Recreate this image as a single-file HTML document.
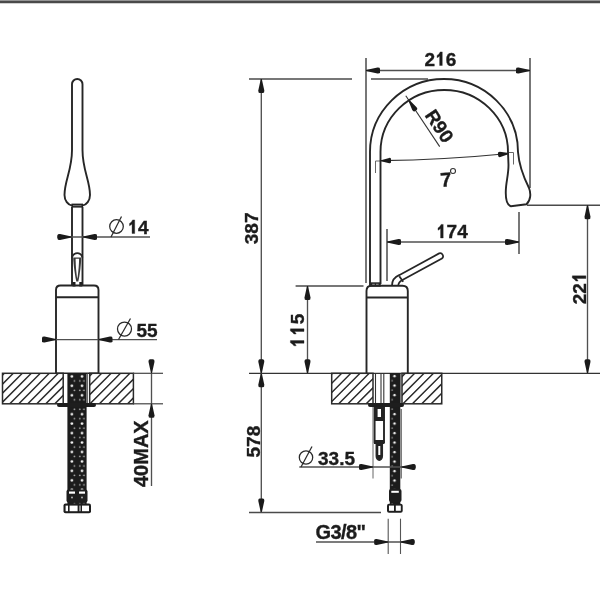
<!DOCTYPE html>
<html><head><meta charset="utf-8"><style>
html,body{margin:0;padding:0;background:#fff;width:600px;height:600px;overflow:hidden}
svg{display:block;font-family:"Liberation Sans",sans-serif;will-change:transform}
</style></head><body>
<svg width="600" height="600" viewBox="0 0 600 600">
<rect width="600" height="600" fill="#fff"/>
<rect x="0" y="0" width="600" height="1" fill="#959595"/><rect x="0" y="1" width="600" height="2" fill="#4a4a4a"/><rect x="0" y="3" width="600" height="1" fill="#d0d0d0"/>
<path d="M72,205.5 C68,205 64.5,200.5 64.5,195 C64.5,181 72,170 72,150 L72,84.25 A5.25,5.25 0 0 1 82.5,84.25 L82.5,150 C82.5,170 90,181 90,195 C90,200.5 86.5,205 82.5,205.5" fill="none" stroke="#262626" stroke-width="1.9"/>
<rect x="71.5" y="203.6" width="11.5" height="4" fill="#222"/><rect x="73" y="205.1" width="8.5" height="1" fill="#777"/>
<line x1="72" y1="207" x2="72" y2="285.5" stroke="#262626" stroke-width="1.9"/>
<line x1="82.5" y1="207" x2="82.5" y2="285.5" stroke="#262626" stroke-width="1.9"/>
<path d="M72,257.5 C73,254.6 75,253.2 77.3,253.2 C79.6,253.2 81.6,254.6 82.5,257.5" fill="none" stroke="#262626" stroke-width="1.8"/>
<path d="M73.2,257.5 L81.3,257.5 C81,266 79.5,276 78.3,281.5 L76.3,281.5 C75.1,276 73.5,266 73.2,257.5Z" fill="#3a3a3a"/>
<path d="M75.6,258.8 L79.1,258.8 C78.9,266 78.2,274 77.3,279 C76.4,274 75.7,266 75.6,258.8Z" fill="#fff"/>
<rect x="72.5" y="282" width="3" height="4.5" fill="#1e1e1e"/><rect x="79.3" y="282" width="3" height="4.5" fill="#1e1e1e"/>
<path d="M56,373.3 L56,290 Q56,285.5 60.5,285.5 L94,285.5 Q98.5,285.5 98.5,290 L98.5,373.3" fill="none" stroke="#262626" stroke-width="1.9"/>
<line x1="56" y1="297.2" x2="98.5" y2="297.2" stroke="#262626" stroke-width="1.9"/>
<line x1="56" y1="373.3" x2="98.5" y2="373.3" stroke="#262626" stroke-width="1.6"/>
<line x1="57" y1="237" x2="150" y2="237" stroke="#505050" stroke-width="1.35"/>
<path d="M71.50,237.50 L60.02,240.00 Q57.50,240.15 57.50,238.65 L57.50,235.35 Q57.50,233.85 60.02,234.00 L71.50,236.50Z" fill="#1a1a1a"/>
<path d="M83.00,236.50 L94.48,234.00 Q97.00,233.85 97.00,235.35 L97.00,238.65 Q97.00,240.15 94.48,240.00 L83.00,237.50Z" fill="#1a1a1a"/>
<circle cx="116.5" cy="226.5" r="6.8" fill="none" stroke="#2a2a2a" stroke-width="1.25"/>
<line x1="121.5" y1="216.5" x2="111" y2="237" stroke="#2a2a2a" stroke-width="1.25"/>
<g transform="translate(127.5 233.5)"><path d="M7.20,0.00L7.20,-13.60L5.09,-13.60C4.66,-12.45 3.80,-11.40 3.04,-10.83C2.66,-10.55 2.28,-10.26 2.01,-10.11L2.01,-7.79C2.94,-8.17 3.80,-8.74 4.56,-9.50L4.56,0.00Z" fill="#1c1c1c" stroke="#1c1c1c" stroke-width="0.35"/><text x="10.57" y="0" font-size="19" font-weight="bold" fill="#1c1c1c" stroke="#1c1c1c" stroke-width="0.35">4</text></g>
<line x1="42" y1="339.6" x2="157" y2="339.6" stroke="#505050" stroke-width="1.35"/>
<path d="M56.00,340.10 L44.52,342.60 Q42.00,342.75 42.00,341.25 L42.00,337.95 Q42.00,336.45 44.52,336.60 L56.00,339.10Z" fill="#1a1a1a"/>
<path d="M98.50,339.10 L109.98,336.60 Q112.50,336.45 112.50,337.95 L112.50,341.25 Q112.50,342.75 109.98,342.60 L98.50,340.10Z" fill="#1a1a1a"/>
<circle cx="124.5" cy="329" r="7" fill="none" stroke="#2a2a2a" stroke-width="1.25"/>
<line x1="130.5" y1="318.5" x2="118.5" y2="339.5" stroke="#2a2a2a" stroke-width="1.25"/>
<text x="136.5" y="336.5" font-size="19" font-weight="bold" text-anchor="start" fill="#1c1c1c" stroke="#1c1c1c" stroke-width="0.35">55</text>
<clipPath id="c1"><rect x="2.5" y="373.3" width="60.7" height="30.5"/></clipPath>
<path d="M-35.20,403.8 L-4.70,373.3 M-26.20,403.8 L4.30,373.3 M-17.20,403.8 L13.30,373.3 M-8.20,403.8 L22.30,373.3 M0.80,403.8 L31.30,373.3 M9.80,403.8 L40.30,373.3 M18.80,403.8 L49.30,373.3 M27.80,403.8 L58.30,373.3 M36.80,403.8 L67.30,373.3 M45.80,403.8 L76.30,373.3 M54.80,403.8 L85.30,373.3 M63.80,403.8 L94.30,373.3" stroke="#2a2a2a" stroke-width="1.45" clip-path="url(#c1)"/>
<rect x="2.5" y="373.3" width="60.7" height="30.5" fill="none" stroke="#2a2a2a" stroke-width="1.5"/>
<clipPath id="c2"><rect x="89.7" y="373.3" width="43.7" height="30.5"/></clipPath>
<path d="M52.40,403.8 L82.90,373.3 M61.80,403.8 L92.30,373.3 M71.20,403.8 L101.70,373.3 M80.60,403.8 L111.10,373.3 M90.00,403.8 L120.50,373.3 M99.40,403.8 L129.90,373.3 M108.80,403.8 L139.30,373.3 M118.20,403.8 L148.70,373.3 M127.60,403.8 L158.10,373.3 M137.00,403.8 L167.50,373.3" stroke="#2a2a2a" stroke-width="1.45" clip-path="url(#c2)"/>
<rect x="89.7" y="373.3" width="43.7" height="30.5" fill="none" stroke="#2a2a2a" stroke-width="1.5"/>
<line x1="133" y1="373.3" x2="163" y2="373.3" stroke="#444" stroke-width="1.2"/>
<line x1="133" y1="403.8" x2="163" y2="403.8" stroke="#444" stroke-width="1.2"/>
<line x1="151.5" y1="373.3" x2="151.5" y2="486" stroke="#505050" stroke-width="1.35"/>
<path d="M151.00,373.30 L148.50,361.82 Q148.35,359.30 149.85,359.30 L153.15,359.30 Q154.65,359.30 154.50,361.82 L152.00,373.30Z" fill="#1a1a1a"/>
<path d="M152.00,403.80 L154.50,415.28 Q154.65,417.80 153.15,417.80 L149.85,417.80 Q148.35,417.80 148.50,415.28 L151.00,403.80Z" fill="#1a1a1a"/>
<text x="147.8" y="487" font-size="20" font-weight="bold" text-anchor="start" fill="#1c1c1c" stroke="#1c1c1c" stroke-width="0.35" transform="rotate(-90 147.8 487)">40MAX</text>
<pattern id="dots" x="67.4" y="373" width="19.2" height="9.45" patternUnits="userSpaceOnUse"><rect width="19.2" height="9.45" fill="#1c1c1c"/><circle cx="4.5" cy="3.4" r="1.3" fill="#fff"/><circle cx="14.6" cy="3.4" r="1.3" fill="#fff"/><circle cx="7.1" cy="7.9" r="0.9" fill="#aaa"/><circle cx="12.35" cy="7.9" r="0.9" fill="#aaa"/><circle cx="16.5" cy="7.9" r="0.9" fill="#aaa"/></pattern>
<pattern id="dots2" x="389.8" y="373" width="10.5" height="9.5" patternUnits="userSpaceOnUse"><rect width="10.5" height="9.5" fill="#1c1c1c"/><circle cx="4.7" cy="3.0" r="1.2" fill="#fff"/><circle cx="2.3" cy="7.7" r="0.8" fill="#999"/></pattern>
<rect x="67.4" y="373" width="19.2" height="131" fill="url(#dots)"/>
<line x1="87.5" y1="373.3" x2="87.5" y2="403" stroke="#444" stroke-width="0.8"/>
<rect x="57" y="403" width="39" height="4" rx="2" fill="#1e1e1e"/>
<rect x="66.5" y="489.5" width="21" height="13" rx="2" fill="#1e1e1e"/>
<rect x="69" y="491.5" width="6" height="2.2" fill="#fff"/><rect x="79" y="491.5" width="6" height="2.2" fill="#fff"/><circle cx="72" cy="497.5" r="0.9" fill="#bbb"/><circle cx="82" cy="497.5" r="0.9" fill="#bbb"/>
<rect x="63.5" y="503.5" width="27.5" height="9.8" rx="2" fill="#1e1e1e"/>
<rect x="65.6" y="505.6" width="2.4" height="5.6" fill="#fff"/><rect x="69.6" y="505.6" width="8" height="5.6" fill="#fff"/><rect x="79.5" y="505.6" width="1" height="5.6" fill="#fff"/><rect x="82" y="505.6" width="7" height="5.6" fill="#fff"/>
<line x1="249" y1="79" x2="352" y2="79" stroke="#4a4a4a" stroke-width="1.5"/>
<line x1="371" y1="79" x2="428" y2="79" stroke="#4a4a4a" stroke-width="1.5"/>
<line x1="261.3" y1="79" x2="261.3" y2="512.5" stroke="#505050" stroke-width="1.35"/>
<path d="M261.80,79.00 L264.30,90.48 Q264.45,93.00 262.95,93.00 L259.65,93.00 Q258.15,93.00 258.30,90.48 L260.80,79.00Z" fill="#1a1a1a"/>
<path d="M260.80,373.30 L258.30,361.82 Q258.15,359.30 259.65,359.30 L262.95,359.30 Q264.45,359.30 264.30,361.82 L261.80,373.30Z" fill="#1a1a1a"/>
<path d="M261.80,373.30 L264.30,384.78 Q264.45,387.30 262.95,387.30 L259.65,387.30 Q258.15,387.30 258.30,384.78 L260.80,373.30Z" fill="#1a1a1a"/>
<path d="M260.80,512.50 L258.30,501.02 Q258.15,498.50 259.65,498.50 L262.95,498.50 Q264.45,498.50 264.30,501.02 L261.80,512.50Z" fill="#1a1a1a"/>
<text x="258.3" y="244.2" font-size="19" font-weight="bold" text-anchor="start" fill="#1c1c1c" stroke="#1c1c1c" stroke-width="0.35" transform="rotate(-90 258.3 244.2)">387</text>
<text x="260" y="457.5" font-size="19" font-weight="bold" text-anchor="start" fill="#1c1c1c" stroke="#1c1c1c" stroke-width="0.35" transform="rotate(-90 260 457.5)">578</text>
<line x1="249" y1="373.3" x2="600" y2="373.3" stroke="#333" stroke-width="1.3"/>
<line x1="249" y1="512.5" x2="381" y2="512.5" stroke="#4a4a4a" stroke-width="1.5"/>
<line x1="295.6" y1="286" x2="363.5" y2="286" stroke="#4a4a4a" stroke-width="1.5"/>
<line x1="307.5" y1="286" x2="307.5" y2="373.3" stroke="#505050" stroke-width="1.35"/>
<path d="M308.00,286.00 L310.50,297.48 Q310.65,300.00 309.15,300.00 L305.85,300.00 Q304.35,300.00 304.50,297.48 L307.00,286.00Z" fill="#1a1a1a"/>
<path d="M307.00,373.30 L304.50,361.82 Q304.35,359.30 305.85,359.30 L309.15,359.30 Q310.65,359.30 310.50,361.82 L308.00,373.30Z" fill="#1a1a1a"/>
<g transform="translate(304 347.8) rotate(-90)"><path d="M7.20,0.00L7.20,-13.60L5.09,-13.60C4.66,-12.45 3.80,-11.40 3.04,-10.83C2.66,-10.55 2.28,-10.26 2.01,-10.11L2.01,-7.79C2.94,-8.17 3.80,-8.74 4.56,-9.50L4.56,0.00Z" fill="#1c1c1c" stroke="#1c1c1c" stroke-width="0.35"/><path d="M18.97,0.00L18.97,-13.60L16.86,-13.60C16.42,-12.45 15.57,-11.40 14.81,-10.83C14.43,-10.55 14.05,-10.26 13.78,-10.11L13.78,-7.79C14.71,-8.17 15.57,-8.74 16.33,-9.50L16.33,0.00Z" fill="#1c1c1c" stroke="#1c1c1c" stroke-width="0.35"/><text x="23.54" y="0" font-size="19" font-weight="bold" fill="#1c1c1c" stroke="#1c1c1c" stroke-width="0.35">5</text></g>
<line x1="366" y1="58" x2="366" y2="283" stroke="#4a4a4a" stroke-width="1.5"/>
<line x1="530" y1="58" x2="530" y2="188" stroke="#4a4a4a" stroke-width="1.5"/>
<line x1="366" y1="70.5" x2="530" y2="70.5" stroke="#505050" stroke-width="1.35"/>
<path d="M366.00,70.00 L377.48,67.50 Q380.00,67.35 380.00,68.85 L380.00,72.15 Q380.00,73.65 377.48,73.50 L366.00,71.00Z" fill="#1a1a1a"/>
<path d="M530.00,71.00 L518.52,73.50 Q516.00,73.65 516.00,72.15 L516.00,68.85 Q516.00,67.35 518.52,67.50 L530.00,70.00Z" fill="#1a1a1a"/>
<g transform="translate(424.5 65.5)"><text x="0.00" y="0" font-size="19" font-weight="bold" fill="#1c1c1c" stroke="#1c1c1c" stroke-width="0.35">2</text><path d="M17.77,0.00L17.77,-13.60L15.66,-13.60C15.22,-12.45 14.37,-11.40 13.61,-10.83C13.23,-10.55 12.85,-10.26 12.58,-10.11L12.58,-7.79C13.51,-8.17 14.37,-8.74 15.13,-9.50L15.13,0.00Z" fill="#1c1c1c" stroke="#1c1c1c" stroke-width="0.35"/><text x="21.14" y="0" font-size="19" font-weight="bold" fill="#1c1c1c" stroke="#1c1c1c" stroke-width="0.35">6</text></g>
<line x1="387" y1="229" x2="387" y2="281" stroke="#4a4a4a" stroke-width="1.5"/>
<line x1="519" y1="212" x2="519" y2="254" stroke="#4a4a4a" stroke-width="1.5"/>
<line x1="387" y1="242" x2="519" y2="242" stroke="#505050" stroke-width="1.35"/>
<path d="M387.00,241.50 L398.48,239.00 Q401.00,238.85 401.00,240.35 L401.00,243.65 Q401.00,245.15 398.48,245.00 L387.00,242.50Z" fill="#1a1a1a"/>
<path d="M519.00,242.50 L507.52,245.00 Q505.00,245.15 505.00,243.65 L505.00,240.35 Q505.00,238.85 507.52,239.00 L519.00,241.50Z" fill="#1a1a1a"/>
<g transform="translate(436 238)"><path d="M7.20,0.00L7.20,-13.60L5.09,-13.60C4.66,-12.45 3.80,-11.40 3.04,-10.83C2.66,-10.55 2.28,-10.26 2.01,-10.11L2.01,-7.79C2.94,-8.17 3.80,-8.74 4.56,-9.50L4.56,0.00Z" fill="#1c1c1c" stroke="#1c1c1c" stroke-width="0.35"/><text x="10.57" y="0" font-size="19" font-weight="bold" fill="#1c1c1c" stroke="#1c1c1c" stroke-width="0.35">7</text><text x="21.14" y="0" font-size="19" font-weight="bold" fill="#1c1c1c" stroke="#1c1c1c" stroke-width="0.35">4</text></g>
<line x1="527" y1="205.3" x2="600" y2="205.3" stroke="#4a4a4a" stroke-width="1.5"/>
<line x1="587.5" y1="205.3" x2="587.5" y2="373.3" stroke="#505050" stroke-width="1.35"/>
<path d="M588.00,205.30 L590.50,216.78 Q590.65,219.30 589.15,219.30 L585.85,219.30 Q584.35,219.30 584.50,216.78 L587.00,205.30Z" fill="#1a1a1a"/>
<path d="M587.00,373.30 L584.50,361.82 Q584.35,359.30 585.85,359.30 L589.15,359.30 Q590.65,359.30 590.50,361.82 L588.00,373.30Z" fill="#1a1a1a"/>
<g transform="translate(585.9 304.2) rotate(-90)"><text x="0.00" y="0" font-size="19" font-weight="bold" fill="#1c1c1c" stroke="#1c1c1c" stroke-width="0.35">2</text><text x="10.57" y="0" font-size="19" font-weight="bold" fill="#1c1c1c" stroke="#1c1c1c" stroke-width="0.35">2</text><path d="M28.34,0.00L28.34,-13.60L26.23,-13.60C25.79,-12.45 24.94,-11.40 24.18,-10.83C23.80,-10.55 23.42,-10.26 23.15,-10.11L23.15,-7.79C24.08,-8.17 24.94,-8.74 25.70,-9.50L25.70,0.00Z" fill="#1c1c1c" stroke="#1c1c1c" stroke-width="0.35"/></g>
<path d="M381,160.7 Q445,159.8 509,153.5" fill="none" stroke="#333" stroke-width="1.2"/>
<path d="M380.99,160.20 L389.16,157.89 Q390.96,157.73 390.98,159.08 L391.02,162.04 Q391.04,163.39 389.24,163.28 L381.01,161.20Z" fill="#1a1a1a"/>
<path d="M509.05,154.00 L500.29,157.07 Q498.33,157.39 498.20,156.05 L497.91,153.09 Q497.78,151.75 499.76,151.69 L508.95,153.00Z" fill="#1a1a1a"/>
<path d="M381,161 L375.5,161 L375.5,173 M509,152.5 L513.5,152.5 L513.5,164.5" fill="none" stroke="#666" stroke-width="1"/>
<text x="441" y="187" font-size="20" font-weight="bold" text-anchor="start" fill="#1c1c1c" stroke="#1c1c1c" stroke-width="0.35" transform="rotate(-5 441 187)">7</text>
<circle cx="453" cy="171" r="2.5" fill="none" stroke="#333" stroke-width="1.1"/>
<line x1="405.8" y1="95.8" x2="439.7" y2="146.6" stroke="#333" stroke-width="1.1"/>
<path d="M408.92,99.52 L416.58,107.22 Q417.99,109.10 416.91,109.82 L414.53,111.41 Q413.45,112.13 412.25,110.11 L408.08,100.08Z" fill="#1a1a1a"/>
<text x="424.2" y="115.2" font-size="19" font-weight="bold" text-anchor="start" fill="#1c1c1c" stroke="#1c1c1c" stroke-width="0.35" transform="rotate(56.3 424.2 115.2)">R90</text>
<path d="M370,286 L370,152 A74,73 0 0 1 518,152 C519,165 524,178 529,188 C531,193 531,200 526.5,204.3 L511,206.3 C507,205 505.5,200 505.8,191 C506,182 508.5,175 508.5,165 L508,152 A63.75,62 0 0 0 380.5,152 L380.5,284" fill="none" stroke="#262626" stroke-width="1.9"/>
<rect x="370" y="282.3" width="10.8" height="4.4" fill="#262626"/><rect x="372.2" y="283.8" width="2.6" height="1.5" fill="#999"/><rect x="376" y="283.8" width="2.6" height="1.5" fill="#999"/>
<path d="M366.5,373.3 L366.5,291 Q366.5,285.8 371.5,285.8 L402.5,285.8 Q407.8,285.8 407.8,291 L407.8,373.3" fill="none" stroke="#262626" stroke-width="1.9"/>
<line x1="366.5" y1="297.5" x2="407.8" y2="297.5" stroke="#262626" stroke-width="1.9"/>
<path d="M392,285.5 C392,280.5 394.5,277 399.6,274.9 L439.1,253.4 A3,3 0 0 1 441.9,258.6 L402.4,280.1 C400,281.5 398.3,283 398.3,285.5" fill="none" stroke="#262626" stroke-width="1.7"/>
<line x1="399.3" y1="276.3" x2="403.2" y2="281.8" stroke="#262626" stroke-width="1.8"/>
<clipPath id="c3"><rect x="331.7" y="373.3" width="41.30000000000001" height="30.5"/></clipPath>
<path d="M292.86,403.8 L323.36,373.3 M302.03,403.8 L332.53,373.3 M311.20,403.8 L341.70,373.3 M320.37,403.8 L350.87,373.3 M329.54,403.8 L360.04,373.3 M338.71,403.8 L369.21,373.3 M347.88,403.8 L378.38,373.3 M357.05,403.8 L387.55,373.3 M366.22,403.8 L396.72,373.3 M375.39,403.8 L405.89,373.3" stroke="#2a2a2a" stroke-width="1.45" clip-path="url(#c3)"/>
<rect x="331.7" y="373.3" width="41.30000000000001" height="30.5" fill="none" stroke="#2a2a2a" stroke-width="1.5"/>
<clipPath id="c4"><rect x="402" y="373.3" width="39.75" height="30.5"/></clipPath>
<path d="M365.40,403.8 L395.90,373.3 M374.80,403.8 L405.30,373.3 M384.20,403.8 L414.70,373.3 M393.60,403.8 L424.10,373.3 M403.00,403.8 L433.50,373.3 M412.40,403.8 L442.90,373.3 M421.80,403.8 L452.30,373.3 M431.20,403.8 L461.70,373.3 M440.60,403.8 L471.10,373.3 M450.00,403.8 L480.50,373.3" stroke="#2a2a2a" stroke-width="1.45" clip-path="url(#c4)"/>
<rect x="402" y="373.3" width="39.75" height="30.5" fill="none" stroke="#2a2a2a" stroke-width="1.5"/>
<line x1="375.5" y1="373.3" x2="375.5" y2="403" stroke="#333" stroke-width="1.1"/>
<line x1="381" y1="373.3" x2="381" y2="403" stroke="#333" stroke-width="1.1"/>
<line x1="383.8" y1="373.3" x2="383.8" y2="403" stroke="#333" stroke-width="1.1"/>
<line x1="401" y1="373.3" x2="401" y2="403" stroke="#555" stroke-width="1"/>
<rect x="389.8" y="373" width="10.5" height="131" fill="url(#dots2)"/>
<rect x="368" y="403" width="36" height="4" rx="2" fill="#1e1e1e"/>
<path d="M374.6,407 L374.6,443" fill="none" stroke="#262626" stroke-width="1.9"/>
<path d="M384,407 L384,443" fill="none" stroke="#262626" stroke-width="1.9"/>
<rect x="374" y="407" width="10.5" height="11" fill="#222"/><rect x="377.6" y="409" width="3.4" height="8" fill="#fff"/>
<rect x="374" y="417.5" width="10.5" height="3.5" fill="#222"/><rect x="374" y="440" width="10.5" height="4" fill="#222"/>
<path d="M376.3,444 L376.3,456 C376.3,458.5 377.8,460.2 379.3,460.2 C380.8,460.2 382.3,458.5 382.3,456 L382.3,444" fill="#222" stroke="#262626" stroke-width="1.5"/>
<rect x="378.3" y="446" width="2" height="9" fill="#fff"/>
<line x1="373" y1="407" x2="373" y2="478.5" stroke="#666" stroke-width="1"/>
<line x1="401.2" y1="409" x2="401.2" y2="478.5" stroke="#777" stroke-width="1.5"/>
<line x1="299.3" y1="467" x2="416" y2="467" stroke="#505050" stroke-width="1.35"/>
<path d="M373.00,467.50 L361.52,470.00 Q359.00,470.15 359.00,468.65 L359.00,465.35 Q359.00,463.85 361.52,464.00 L373.00,466.50Z" fill="#1a1a1a"/>
<path d="M401.50,466.50 L412.98,464.00 Q415.50,463.85 415.50,465.35 L415.50,468.65 Q415.50,470.15 412.98,470.00 L401.50,467.50Z" fill="#1a1a1a"/>
<circle cx="306" cy="457.5" r="6.7" fill="none" stroke="#2a2a2a" stroke-width="1.25"/>
<line x1="312" y1="446.5" x2="301" y2="467" stroke="#2a2a2a" stroke-width="1.25"/>
<text x="318" y="465" font-size="19" font-weight="bold" text-anchor="start" fill="#1c1c1c" stroke="#1c1c1c" stroke-width="0.35">33.5</text>
<rect x="389" y="489" width="12.5" height="13" rx="2" fill="#1e1e1e"/>
<rect x="391.3" y="490.8" width="7.5" height="2" fill="#fff"/>
<rect x="387" y="503.7" width="15.7" height="9" rx="2" fill="#1e1e1e"/>
<rect x="389" y="505.6" width="5" height="5.2" fill="#fff"/><rect x="395.8" y="505.6" width="5" height="5.2" fill="#fff"/>
<line x1="388.2" y1="518.7" x2="388.2" y2="554" stroke="#555" stroke-width="1.1"/>
<line x1="400.5" y1="518.7" x2="400.5" y2="554" stroke="#555" stroke-width="1.1"/>
<line x1="316" y1="542" x2="415" y2="542" stroke="#505050" stroke-width="1.35"/>
<path d="M388.20,542.50 L376.72,545.00 Q374.20,545.15 374.20,543.65 L374.20,540.35 Q374.20,538.85 376.72,539.00 L388.20,541.50Z" fill="#1a1a1a"/>
<path d="M400.50,541.50 L411.98,539.00 Q414.50,538.85 414.50,540.35 L414.50,543.65 Q414.50,545.15 411.98,545.00 L400.50,542.50Z" fill="#1a1a1a"/>
<text x="315.5" y="538.5" font-size="20" font-weight="bold" text-anchor="start" fill="#1c1c1c" stroke="#1c1c1c" stroke-width="0.35" letter-spacing="-0.6">G3/8"</text>
</svg>
</body></html>
